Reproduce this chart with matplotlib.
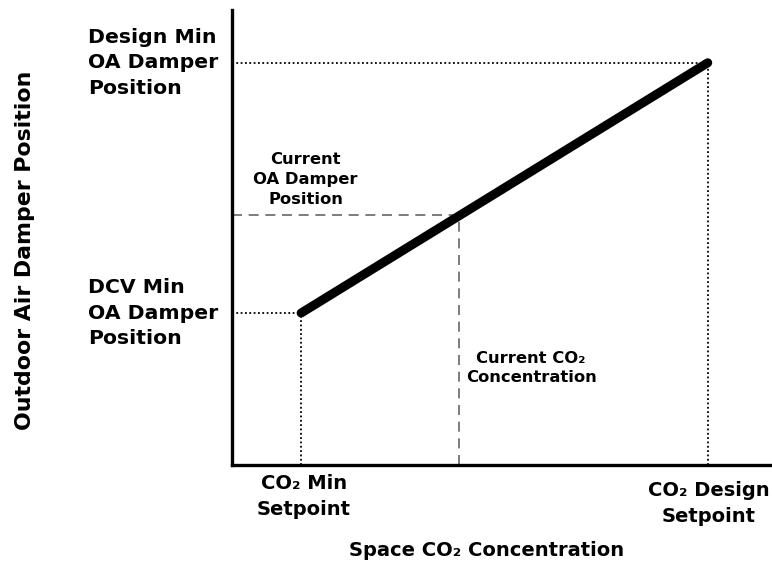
import matplotlib
matplotlib.use("Agg")
import matplotlib.pyplot as plt

# Control schedule: outdoor-air damper position vs. space CO2 (normalised units)
co2_points = [0.128, 0.42, 0.881]          # min setpoint, current, design setpoint
damper_points = [0.334, 0.549, 0.884]      # DCV min, current, design min

x_tick_labels = ["CO\u2082 Min\nSetpoint", "CO\u2082 Design\nSetpoint"]
y_tick_labels = ["DCV Min\nOA Damper\nPosition", "Design Min\nOA Damper\nPosition"]
x_label = "Space CO\u2082 Concentration"
y_label = "Outdoor Air Damper Position"
current_damper_label = "Current\nOA Damper\nPosition"
current_co2_label = "Current CO\u2082\nConcentration"

plt.rcParams['font.family'] = ['DejaVu Sans']
fig = plt.figure(figsize=(7.72, 5.71), dpi=100)
ax = fig.add_axes([232 / 772, 1 - 465 / 571, 540 / 772, 455 / 571])
ax.set_xlim(0, 1)
ax.set_ylim(0, 1)

for side in ("top", "right"):
    ax.spines[side].set_visible(False)
for side in ("left", "bottom"):
    ax.spines[side].set_linewidth(2.4)
    ax.spines[side].set_color("black")
ax.set_xticks([])
ax.set_yticks([])

x_min, x_cur, x_des = co2_points
y_min, y_cur, y_des = damper_points

# dotted guides to the schedule end points
for xv, yv in ((x_min, y_min), (x_des, y_des)):
    ax.plot([0, xv], [yv, yv], color="black", lw=1.3, ls=(0, (1, 1.4)))
    ax.plot([xv, xv], [0, yv], color="black", lw=1.3, ls=(0, (1, 1.4)))

# dashed guides to the current operating point
ax.plot([0, x_cur], [y_cur, y_cur], color="#666666", lw=1.2, ls=(0, (6, 4)))
ax.plot([x_cur, x_cur], [0, y_cur], color="#666666", lw=1.2, ls=(0, (6, 4)))

# the reset schedule
ax.plot([x_min, x_des], [y_min, y_des], color="black", lw=6.5, solid_capstyle="round")

# y-side labels
ytr = ax.get_yaxis_transform()
for yv, lab in zip((y_min, y_des), y_tick_labels):
    ax.text(-0.267, yv, lab, transform=ytr, ha="left", va="center",
            fontsize=14.7, fontweight="bold", linespacing=1.44)

# x-side labels
xtr = ax.get_xaxis_transform()
ax.text(x_min + 0.005, -0.02, x_tick_labels[0], transform=xtr, ha="center", va="top",
        fontsize=14, fontweight="bold", linespacing=1.45)
ax.text(x_des + 0.002, -0.035, x_tick_labels[1], transform=xtr, ha="center", va="top",
        fontsize=14, fontweight="bold", linespacing=1.45)

ax.text(0.472, -0.168, x_label, transform=ax.transAxes, ha="center", va="top",
        fontsize=14, fontweight="bold")
ax.text(-0.383, 0.472, y_label, transform=ax.transAxes, ha="center", va="center",
        rotation=90, fontsize=15.8, fontweight="bold")

# annotations for the current operating point
ax.text(0.136, y_cur + 0.018, current_damper_label, ha="center", va="bottom",
        fontsize=11.8, fontweight="bold", linespacing=1.4)
ax.text(0.554, 0.213, current_co2_label, ha="center", va="center",
        fontsize=11.8, fontweight="bold", linespacing=1.4)

fig.savefig("out.png", dpi=100)
